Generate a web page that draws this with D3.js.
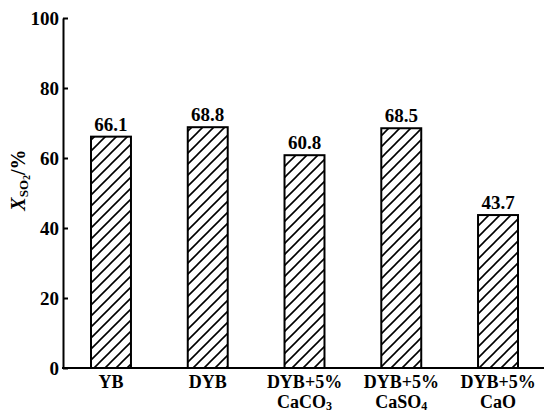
<!DOCTYPE html>
<html>
<head>
<meta charset="utf-8">
<script src="https://cdn.jsdelivr.net/npm/d3@7"></script>
<style>
  body { margin: 0; background: #fff; }
  text { font-family: "Liberation Serif", "Times New Roman", serif; font-weight: bold; fill: #000; }
</style>
</head>
<body>
<script>
// Sulfur capture (SO2 conversion) for each sorbent
const categories = ["YB", "DYB", "DYB+5% CaCO3", "DYB+5% CaSO4", "DYB+5% CaO"];
// label lines; "_" marks a subscript run
const categoryLines = [["YB"], ["DYB"], ["DYB+5%", "CaCO_3"], ["DYB+5%", "CaSO_4"], ["DYB+5%", "CaO"]];
const values = [66.1, 68.8, 60.8, 68.5, 43.7];
const yTicks = [0, 20, 40, 60, 80, 100];

const W = 546, H = 414;
const svg = d3.select("body").append("svg").attr("width", W).attr("height", H);

const y = d3.scaleLinear().domain([0, 100]).range([368, 18]);
const x = d3.scaleBand().domain(categories).range([91, 518]).paddingInner(0.587).paddingOuter(0);

// diagonal hatch fill
const pat = svg.append("defs").append("pattern")
  .attr("id", "hatch").attr("patternUnits", "userSpaceOnUse")
  .attr("width", 11).attr("height", 11);
pat.append("path")
  .attr("d", "M-2,13 L13,-2 M-3,3 L3,-3 M8,14 L14,8")
  .attr("stroke", "#000").attr("stroke-width", 1.6);

// bars
svg.append("g").selectAll("rect").data(values).join("rect")
  .attr("x", (d, i) => x(categories[i]))
  .attr("y", d => y(d))
  .attr("width", x.bandwidth())
  .attr("height", d => y(0) - y(d))
  .attr("fill", "url(#hatch)")
  .attr("stroke", "#000").attr("stroke-width", 2);

// value labels
svg.append("g").selectAll("text").data(values).join("text")
  .attr("x", (d, i) => x(categories[i]) + x.bandwidth() / 2)
  .attr("y", d => y(d) - 6)
  .attr("text-anchor", "middle")
  .attr("font-size", 19)
  .text(d => d.toFixed(1));

// y axis, ticks pointing inward
const yAxis = svg.append("g").attr("transform", "translate(63,0)")
  .call(d3.axisLeft(y).tickValues(yTicks).tickSize(-5).tickSizeOuter(0).tickPadding(4).tickFormat(d3.format("d")));
yAxis.select(".domain").attr("stroke", "#000").attr("stroke-width", 2);
yAxis.selectAll(".tick line").attr("stroke", "#000").attr("stroke-width", 2);
yAxis.selectAll(".tick text").attr("font-size", 19).style("font-family", "Liberation Serif").style("font-weight", "bold");

// baseline
svg.append("line")
  .attr("x1", 62).attr("x2", 544).attr("y1", y(0)).attr("y2", y(0))
  .attr("stroke", "#000").attr("stroke-width", 2);

// category labels
const cat = svg.append("g").selectAll("text").data(categoryLines).join("text")
  .attr("text-anchor", "middle")
  .attr("font-size", 18)
  .attr("transform", (d, i) => `translate(${x(categories[i]) + x.bandwidth() / 2},0)`);
cat.each(function(lines) {
  const t = d3.select(this);
  lines.forEach((line, li) => {
    const parts = line.split("_");
    const base = 388 + li * 20;
    t.append("tspan").attr("x", 0).attr("y", base).text(parts[0]);
    if (parts[1]) {
      t.append("tspan").attr("font-size", 12).attr("dy", 2).text(parts[1]);
    }
  });
});

// y axis title: X_SO2 /%
const title = svg.append("text")
  .attr("transform", "translate(25,180) rotate(-90)")
  .attr("text-anchor", "middle")
  .attr("font-size", 20);
title.append("tspan").attr("font-style", "italic").text("X");
title.append("tspan").attr("font-size", 13).attr("dy", 3).text("SO");
title.append("tspan").attr("font-size", 10).attr("dy", 2).text("2");
title.append("tspan").attr("dy", -5).text("/%");
</script>
</body>
</html>
